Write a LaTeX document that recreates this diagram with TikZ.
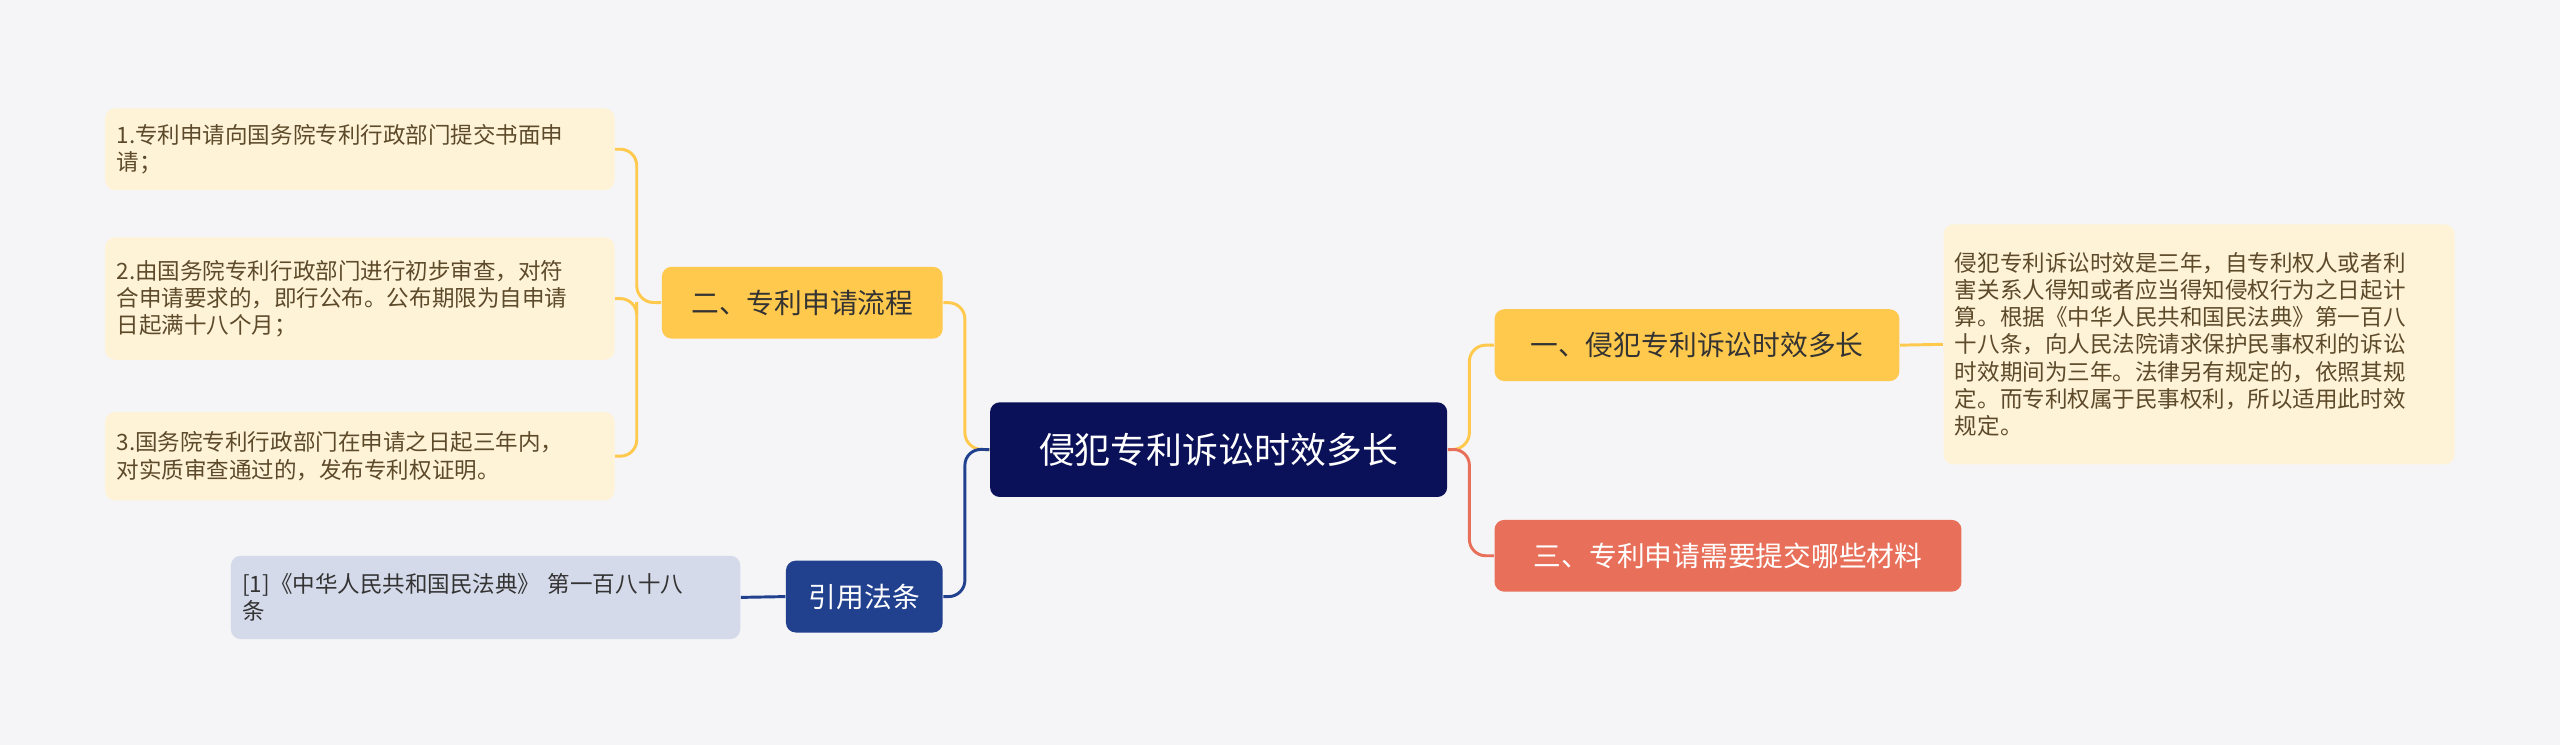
\documentclass[tikz,border=0pt]{standalone}
\usepackage{fontspec}
\setmainfont{Noto Sans CJK SC}
\definecolor{bgc}{HTML}{F5F5F7}
\definecolor{navy}{HTML}{0B1158}
\definecolor{gold}{HTML}{FFC94D}
\definecolor{cream}{HTML}{FFF3D7}
\definecolor{coral}{HTML}{E8705A}
\definecolor{blu}{HTML}{21418F}
\definecolor{pale}{HTML}{D5DAEA}
\definecolor{leaftxt}{HTML}{5C4A2A}
\tikzset{
  box/.style={rounded corners=3pt, inner sep=0pt, anchor=north west},
  leaf/.style={box, inner xsep=3.5pt, fill=cream, text=leaftxt, align=left, font=\fontsize{6.9}{8.3}\selectfont},
  mid/.style={box, font=\fontsize{8.5}{10}\selectfont},
  link/.style={line width=0.9pt, rounded corners=5pt}
}
\begin{document}
\begin{tikzpicture}[x=0.5pt,y=0.5pt]
\fill[bgc] (0,0) rectangle (1568,-456);
\useasboundingbox (0,0) rectangle (1568,-456);

% centre
\node[box, fill=navy, text=white, minimum width=140pt, minimum height=29pt, font=\fontsize{11}{13}\selectfont] (root) at (606,-246) {侵犯专利诉讼时效多长};

% right side
\node[mid, fill=gold, text=black!80, minimum width=124pt, minimum height=22pt] (r1) at (915,-189) {一、侵犯专利诉讼时效多长};
\node[mid, fill=coral, text=white, minimum width=143pt, minimum height=22pt] (r2) at (915,-318) {三、专利申请需要提交哪些材料};
\node[leaf, minimum width=156.5pt, minimum height=73.5pt, text width=149.5pt] (r1a) at (1190,-137) {侵犯专利诉讼时效是三年，自专利权人或者利\\害关系人得知或者应当得知侵权行为之日起计\\算。根据《中华人民共和国民法典》第一百八\\十八条，向人民法院请求保护民事权利的诉讼\\时效期间为三年。法律另有规定的，依照其规\\定。而专利权属于民事权利，所以适用此时效\\规定。};

% left side
\node[mid, fill=gold, text=black!80, minimum width=86pt, minimum height=22pt] (l1) at (405,-163) {二、专利申请流程};
\node[mid, fill=blu, text=white, minimum width=48pt, minimum height=22pt] (l2) at (481,-343) {引用法条};
\node[leaf, minimum width=156pt, minimum height=25pt, text width=149pt] (l1a) at (64,-66) {1.专利申请向国务院专利行政部门提交书面申\\请；};
\node[leaf, minimum width=156pt, minimum height=37.5pt, text width=149pt] (l1b) at (64,-145) {2.由国务院专利行政部门进行初步审查，对符\\合申请要求的，即行公布。公布期限为自申请\\日起满十八个月；};
\node[leaf, minimum width=156pt, minimum height=27pt, text width=149pt] (l1c) at (64,-252) {3.国务院专利行政部门在申请之日起三年内，\\对实质审查通过的，发布专利权证明。};
\node[leaf, fill=pale, text=black!80, minimum width=156pt, minimum height=25.5pt, text width=149pt] (l2a) at (141,-340) {[1]《中华人民共和国民法典》 第一百八十八\\条};

% joints
\coordinate (jl) at (591,-275);
\coordinate (jr) at (900,-275);
\coordinate (jb) at (390,-185);

% connectors
\draw[link, gold] (root.west) -- (jl) |- (l1.east);
\draw[link, blu] (root.west) -- (jl) |- (l2.east);
\draw[link, blu] (l2.west) -- (l2a.east);
\draw[link, gold] (root.east) -- (jr) |- (r1.west);
\draw[link, coral] (root.east) -- (jr) |- (r2.west);
\draw[link, gold] (r1.east) -- (r1a.west);
\draw[link, gold] (l1.west) -- (jb) |- (l1a.east);
\draw[link, gold] (jb) |- (l1b.east);
\draw[link, gold] (jb) |- (l1c.east);
\end{tikzpicture}
\end{document}
